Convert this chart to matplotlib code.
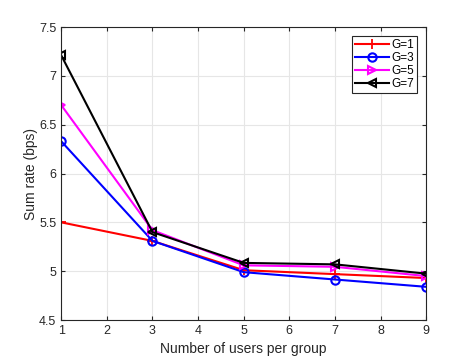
import matplotlib
matplotlib.use("Agg")
import matplotlib.pyplot as plt

plt.rcParams['font.family'] = ['Liberation Sans', 'DejaVu Sans']

x = [1, 3, 5, 7, 9]
g1 = [5.50, 5.31, 5.01, 4.97, 4.93]
g3 = [6.33, 5.31, 4.99, 4.915, 4.84]
g5 = [6.70, 5.42, 5.06, 5.045, 4.95]
g7 = [7.21, 5.40, 5.085, 5.07, 4.975]
labels = ['G=1', 'G=3', 'G=5', 'G=7']

fig = plt.figure(figsize=(4.71, 3.6), dpi=100)
ax = fig.add_axes([0.13, 0.111, 0.775, 0.814])

ax.plot(x, g1, color='red', marker='+', ms=7, mew=1.3, lw=1.5, label=labels[0])
ax.plot(x, g3, color='blue', marker='o', ms=6, mfc='none', mew=1.5, lw=1.5, label=labels[1])
ax.plot(x, g5, color='magenta', marker='>', ms=6, mfc='none', mew=1.5, lw=1.5, label=labels[2])
ax.plot(x, g7, color='black', marker='<', ms=6, mfc='none', mew=1.5, lw=1.5, label=labels[3])

ax.set_xlim(1, 9)
ax.set_ylim(4.5, 7.5)
ax.set_xticks(range(1, 10))
ax.set_yticks([4.5, 5, 5.5, 6, 6.5, 7, 7.5])
ax.set_yticklabels(['4.5', '5', '5.5', '6', '6.5', '7', '7.5'])
ax.grid(True, color='#e6e6e6', lw=0.8)
ax.set_axisbelow(True)
for s in ax.spines.values():
    s.set_color('#262626')
    s.set_linewidth(0.8)
ax.tick_params(direction='in', length=3, colors='#262626', labelsize=9, width=0.8, top=True, right=True)
ax.set_xlabel('Number of users per group', fontsize=10, color='#262626')
ax.set_ylabel('Sum rate (bps)', fontsize=10, color='#262626', labelpad=1)

leg = ax.legend(loc='upper right', fontsize=8.5, fancybox=False, framealpha=1,
                edgecolor='#262626', borderpad=0.25, labelspacing=0.1, handlelength=2.9,
                handletextpad=0.25, borderaxespad=0.75)
leg.get_frame().set_linewidth(0.8)

fig.savefig('out.png', dpi=100)
